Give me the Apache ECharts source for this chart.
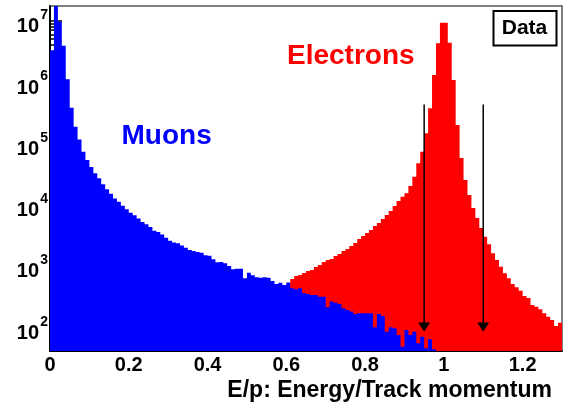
<!DOCTYPE html>
<html><head><meta charset="utf-8">
<script src="https://cdn.jsdelivr.net/npm/echarts@6/dist/echarts.min.js"></script>
<style>html,body{margin:0;padding:0;background:#fff}#c{width:565px;height:412px}</style>
</head><body><div id="c"></div>
<script>
const FONT = '"Liberation Sans", Arial, Helvetica, sans-serif';
const binWidth = 0.01;
const xRange = [0, 1.3];
const yRange = [41, 1.74e7];

// Muon histogram (first bin at E/p = 0)
const muonStartBin = 0;
const muonCounts = [
  3.3e6, 3.0e7, 9.6e6, 3.9e6, 1.11e6, 3.8e5, 1.87e5, 1.16e5, 7.3e4, 5.35e4,
  4.1e4, 3.25e4, 2.69e4, 2.16e4, 1.78e4, 1.51e4, 1.26e4, 1.12e4, 9620, 8430,
  7370, 6710, 5950, 5210, 4780, 4320, 3760, 3580, 3260, 2880,
  2570, 2420, 2340, 2160, 1980, 1820, 1750, 1690, 1650, 1490,
  1470, 1290, 1150, 1160, 1110, 1000, 883, 903, 903, 630,
  777, 705, 654, 644, 654, 644, 569, 508, 534, 490,
  538, 433, 417, 433, 358, 349, 336, 336, 316, 316,
  212, 262, 252, 240, 204, 192, 180, 165, 169, 169,
  169, 169, 100, 165, 153, 84.8, 100, 96.3, 74.9, 48.3,
  90.3, 74.9, 84.8, 54.8, 70.3, 45.5, 63.7, 43.8
];

// Electron histogram (visible part, first bin at E/p = 0.60)
const electronStartBin = 60;
const electronCounts = [
  500, 613, 687, 713, 769, 828, 860, 962, 1040, 1160,
  1250, 1300, 1450, 1570, 1750, 1890, 2120, 2370, 2750, 3080,
  3450, 3860, 4490, 5020, 5830, 6780, 7880, 9510, 11500, 13500,
  15300, 20200, 28600, 47300, 73100, 146000, 373000, 1300000, 4280000, 9280000,
  9280000, 4380000, 1080000, 199000, 57700, 25200, 14400, 8820, 6060, 4160,
  3000, 2260, 1610, 1250, 973, 760, 630, 508, 449, 395,
  324, 301, 231, 217, 197, 169, 149, 131, 105, 119
];

const xMajorTicks = [0, 0.2, 0.4, 0.6, 0.8, 1, 1.2];
const xMinorTicks = [0.05, 0.1, 0.15, 0.25, 0.3, 0.35, 0.45, 0.5, 0.55, 0.65, 0.7, 0.75,
  0.85, 0.9, 0.95, 1.05, 1.1, 1.15, 1.25];
const yMajorTicks = [1e2, 1e3, 1e4, 1e5, 1e6, 1e7];
const yMinorTicks = [50, 60, 70, 80, 90,
  200, 300, 400, 500, 600, 700, 800, 900,
  2000, 3000, 4000, 5000, 6000, 7000, 8000, 9000,
  2e4, 3e4, 4e4, 5e4, 6e4, 7e4, 8e4, 9e4,
  2e5, 3e5, 4e5, 5e5, 6e5, 7e5, 8e5, 9e5,
  2e6, 3e6, 4e6, 5e6, 6e6, 7e6, 8e6, 9e6];

const cutValues = [0.95, 1.1];
const arrowFrom = 4.3e5;
const arrowTo = 85;

// One filled step polygon per histogram, every vertex placed through the axes (api.coord)
function histSeries(name, start, counts, color, z) {
  return {
    type: 'custom', name: name, clip: true, silent: true, z: z,
    data: [[start * binWidth, counts.length]],
    encode: { x: 0 },
    renderItem: function (params, api) {
      const pts = [];
      const x0 = api.value(0);
      pts.push(api.coord([x0, yRange[0]]));
      for (let i = 0; i < counts.length; i++) {
        const xl = (start + i) * binWidth, xr = (start + i + 1) * binWidth;
        const a = api.coord([xl, counts[i]]);
        const b = api.coord([xr, counts[i]]);
        pts.push(a, b);
      }
      pts.push(api.coord([(start + counts.length) * binWidth, yRange[0]]));
      pts.forEach(p => { p[1] = Math.min(p[1], 1e4); });
      return { type: 'polygon', shape: { points: pts }, style: { fill: color } };
    }
  };
}

const chart = echarts.init(document.getElementById('c'), null, { renderer: 'canvas' });
const axisLabelBase = { fontFamily: FONT, fontWeight: 'bold', color: '#000' };

chart.setOption({
  animation: false,
  backgroundColor: '#fff',
  grid: { left: 50, right: 3, top: 6, bottom: 61, show: true, borderColor: '#555', borderWidth: 1.5, backgroundColor: 'transparent' },
  xAxis: [
    {
      type: 'value', position: 'bottom', min: xRange[0], max: xRange[1],
      axisLine: { show: true, onZero: false, lineStyle: { color: '#000', width: 2 } },
      axisTick: { show: true, inside: true, length: 10, customValues: xMajorTicks, lineStyle: { color: '#000', width: 1.5 } },
      axisLabel: Object.assign({ fontSize: 20, margin: 4, customValues: xMajorTicks, formatter: v => String(v) }, axisLabelBase),
      splitLine: { show: false }
    },
    {
      type: 'value', position: 'bottom', min: xRange[0], max: xRange[1],
      axisLine: { show: false },
      axisTick: { show: true, inside: true, length: 6, customValues: xMinorTicks, lineStyle: { color: '#000', width: 1.5 } },
      axisLabel: { show: false },
      splitLine: { show: false }
    }
  ],
  yAxis: [
    {
      type: 'log', logBase: 10, position: 'left', min: yRange[0], max: yRange[1],
      axisLine: { show: true, onZero: false, lineStyle: { color: '#000', width: 2 } },
      axisTick: { show: true, inside: true, length: 12, customValues: yMajorTicks, lineStyle: { color: '#000', width: 1.5 } },
      axisLabel: Object.assign({ fontSize: 20, margin: 11, verticalAlign: 'top', lineHeight: 12,
        customValues: yMajorTicks, formatter: () => '10' }, axisLabelBase),
      splitLine: { show: false }
    },
    {
      type: 'log', logBase: 10, position: 'left', min: yRange[0], max: yRange[1],
      axisLine: { show: false },
      axisTick: { show: true, inside: true, length: 6, customValues: yMinorTicks, lineStyle: { color: '#000', width: 1.5 } },
      axisLabel: Object.assign({ fontSize: 14, margin: 2, verticalAlign: 'bottom', lineHeight: 11, customValues: yMajorTicks,
        formatter: v => String(Math.round(Math.log10(v))) }, axisLabelBase),
      splitLine: { show: false }
    }
  ],
  series: [
    histSeries('Electrons', electronStartBin, electronCounts, '#ff0000', 2),
    histSeries('Muons', muonStartBin, muonCounts, '#0000ff', 3),
    {
      type: 'custom', name: 'cuts', clip: true, silent: true, z: 5,
      data: cutValues.map(c => [c, arrowFrom, arrowTo]),
      encode: { x: 0, y: [1, 2] },
      renderItem: function (params, api) {
        const top = api.coord([api.value(0), api.value(1)]);
        const tip = api.coord([api.value(0), api.value(2)]);
        return {
          type: 'group',
          children: [
            { type: 'line', shape: { x1: top[0], y1: top[1], x2: tip[0], y2: tip[1] - 8 }, style: { stroke: '#000', lineWidth: 1.5 } },
            { type: 'polygon', shape: { points: [[tip[0] - 6, tip[1] - 9], [tip[0] + 6, tip[1] - 9], [tip[0], tip[1]]] }, style: { fill: '#000' } }
          ]
        };
      }
    }
  ],
  graphic: [
    { type: 'text', left: 121.5, top: 122, style: { text: 'Muons', fill: '#0000ff', font: 'bold 28px ' + FONT } },
    { type: 'text', left: 287, top: 42, style: { text: 'Electrons', fill: '#ff0000', font: 'bold 28px ' + FONT } },
    { type: 'rect', shape: { x: 493.5, y: 11, width: 63, height: 34.5 }, style: { fill: '#fff', stroke: '#000', lineWidth: 2 } },
    { type: 'text', x: 524.5, y: 28.5, style: { text: 'Data', fill: '#000', font: 'bold 21px ' + FONT, align: 'center', verticalAlign: 'middle' } },
    { type: 'text', x: 552, y: 391, style: { text: 'E/p: Energy/Track momentum', fill: '#000', font: 'bold 23px ' + FONT, align: 'right', verticalAlign: 'middle' } }
  ]
});
</script>
</body></html>
